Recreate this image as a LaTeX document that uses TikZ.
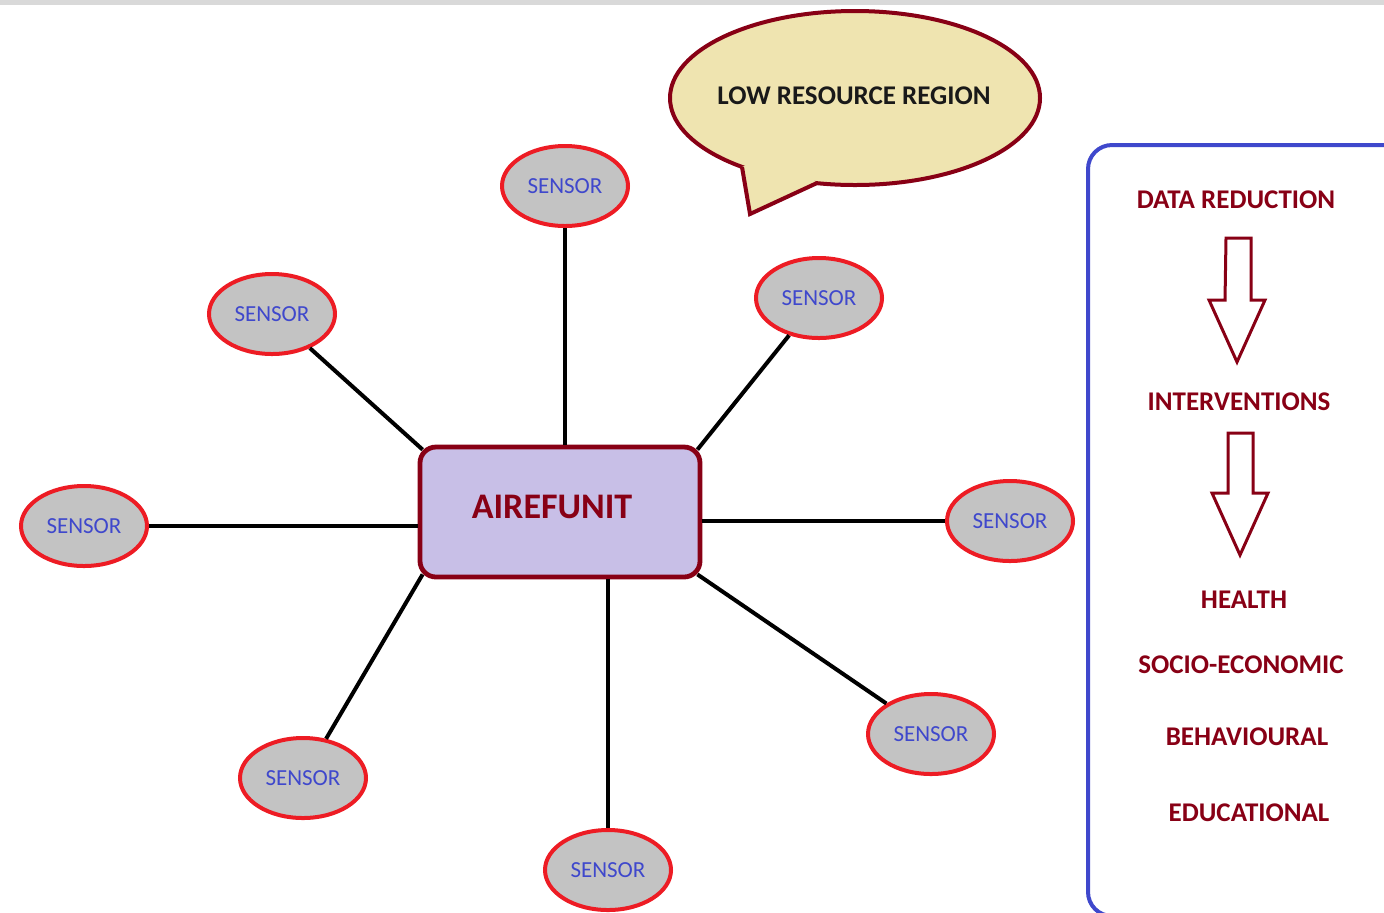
\documentclass[tikz,border=0pt]{standalone}
\usepackage{fontspec}
\setmainfont{Carlito}
\usetikzlibrary{shapes.geometric}

\definecolor{darkred}{HTML}{880015}
\definecolor{sensred}{HTML}{ED1C24}
\definecolor{sensgray}{HTML}{C3C3C3}
\definecolor{sensblue}{HTML}{3F48CC}
\definecolor{unitfill}{HTML}{C8BFE7}
\definecolor{bubblefill}{HTML}{EFE4B0}

\begin{document}
\begin{tikzpicture}[x=0.5pt, y=-0.5pt,
    sensor/.style={ellipse, draw=sensred, fill=sensgray, line width=2pt, minimum width=63pt, minimum height=40pt, inner sep=0pt, text=sensblue, font=\fontsize{11.5}{12}\selectfont},
    link/.style={line width=2pt, black},
    paneltext/.style={text=darkred, font=\bfseries\fontsize{13.5}{15}\selectfont},
    hollow/.style={draw=darkred, line width=1.5pt, line join=miter, fill=white}]
    \useasboundingbox (0, 0) rectangle (1384, 912);
    \clip (0, 0) rectangle (1384, 912);
    \fill[black!15] (0, 0) rectangle (1384, 5);

    % speech bubble
    \node[ellipse, draw=darkred, fill=bubblefill, line width=2pt, minimum width=185pt, minimum height=87pt, inner sep=0pt] (region) at (855, 98) {};
    \fill[bubblefill] (742, 167) -- (750, 214) -- (817, 183) -- (780, 150) -- cycle;
    \draw[darkred, line width=2pt, line join=miter] (742, 167) -- (750, 214) -- (817, 183);
    \node[text=black!90, font=\bfseries\fontsize{13.5}{15}\selectfont] (regionlabel) at (854, 96) {LOW RESOURCE REGION};

    % hub and sensors
    \node[draw=darkred, fill=unitfill, line width=2.4pt, rounded corners=8pt, minimum width=140pt, minimum height=65pt] (unit) at (560, 512) {};
    \node[text=darkred, font=\bfseries\fontsize{18}{20}\selectfont] (unitlabel) at (552, 507) {AIREFUNIT};
    \node[sensor] (s1) at (565, 186) {SENSOR};
    \node[sensor] (s2) at (272, 314) {SENSOR};
    \node[sensor] (s3) at (819, 298) {SENSOR};
    \node[sensor] (s4) at (84, 526) {SENSOR};
    \node[sensor] (s5) at (1010, 521) {SENSOR};
    \node[sensor] (s6) at (931, 734) {SENSOR};
    \node[sensor] (s7) at (303, 778) {SENSOR};
    \node[sensor] (s8) at (608, 870) {SENSOR};
    \draw[link] (s1) -- (s1 |- unit.north);
    \draw[link] (s2) -- ([shift={(2.5pt,-2.5pt)}]unit.north west);
    \draw[link] (s3) -- ([shift={(-2.5pt,-2.5pt)}]unit.north east);
    \draw[link] (s4) -- (s4 -| unit.west);
    \draw[link] (s5) -- (s5 -| unit.east);
    \draw[link] (s6) -- ([shift={(-2.5pt,2.5pt)}]unit.south east);
    \draw[link] (s7) -- ([shift={(2.5pt,2.5pt)}]unit.south west);
    \draw[link] (s8) -- (s8 |- unit.south);

    % outcome panel
    \draw[sensblue, line width=2pt, rounded corners=12pt] (1420, 145) -- (1088, 145) -- (1088, 916) -- (1420, 916);
    \node[paneltext] (datared) at (1236, 200) {DATA REDUCTION};
    \node[paneltext] (interv) at (1239, 402) {INTERVENTIONS};
    \node[paneltext] (health) at (1244, 600) {HEALTH};
    \node[paneltext] (socio) at (1241, 665) {SOCIO-ECONOMIC};
    \node[paneltext] (behav) at (1247, 737) {BEHAVIOURAL};
    \node[paneltext] (educ) at (1249, 813) {EDUCATIONAL};
    \coordinate (a1) at (1238, 238);
    \coordinate (a2) at (1240, 433);
    \draw[hollow] (a1) ++(-12, 0) -- ++(25, 0) -- ++(0, 62) -- ++(14, 0) -- ++(-28, 62) -- ++(-28, -62) -- ++(16, 0) -- cycle;
    \draw[hollow] (a2) ++(-12, 0) -- ++(25, 0) -- ++(0, 60) -- ++(15, 0) -- ++(-28, 62) -- ++(-28, -62) -- ++(16, 0) -- cycle;
\end{tikzpicture}
\end{document}
